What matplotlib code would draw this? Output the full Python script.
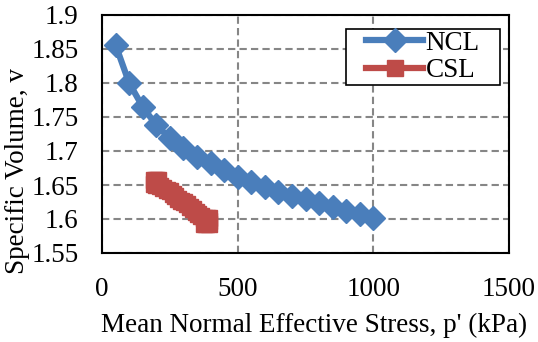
import numpy as np
import matplotlib
matplotlib.use("Agg")
import matplotlib.pyplot as plt
from matplotlib.patches import Rectangle

# NCL data
ncl_p = [50, 100, 150, 200, 250, 300, 350, 400, 450, 500,
         550, 600, 650, 700, 750, 800, 850, 900, 950, 1000]
ncl_v = [1.856, 1.800, 1.765, 1.738, 1.719, 1.704, 1.691, 1.682, 1.672, 1.662,
         1.654, 1.647, 1.640, 1.634, 1.629, 1.624, 1.618, 1.612, 1.607, 1.602]

# CSL data
csl_p = [190, 200, 208, 190, 200, 215, 225, 238, 250, 262, 270, 280, 290, 302,
         312, 323, 335, 345, 355, 366, 377, 388, 395, 395, 395, 385, 377]
csl_v = [1.658, 1.658, 1.658, 1.651, 1.650, 1.648, 1.646, 1.643, 1.641, 1.637,
         1.634, 1.630, 1.627, 1.625, 1.622, 1.618, 1.614, 1.611, 1.607, 1.604,
         1.601, 1.601, 1.601, 1.597, 1.593, 1.593, 1.593]

x_ticks = [0, 500, 1000, 1500]
y_ticks = [1.55, 1.6, 1.65, 1.7, 1.75, 1.8, 1.85, 1.9]
y_ticklabels = ['1.55', '1.6', '1.65', '1.7', '1.75', '1.8', '1.85', '1.9']

plt.rcParams['font.family'] = ['Liberation Serif', 'DejaVu Serif']
fs = 19.5

fig = plt.figure(figsize=(5.38, 3.42), dpi=100)
ax = fig.add_axes([102/538, 1 - 253/342, 407/538, 238/342])

blue = '#4A7EBB'
red = '#BE4B48'

ax.plot(ncl_p, ncl_v, color=blue, lw=4.5, marker='D', ms=12,
        mec=blue, mfc=blue, label='NCL', zorder=3)
ax.plot(csl_p, csl_v, color=red, lw=4.5, marker='s', ms=11,
        mec=red, mfc=red, label='CSL', zorder=3)

ax.set_xlim(0, 1500)
ax.set_ylim(1.55, 1.9)
ax.set_xticks(x_ticks)
ax.set_yticks(y_ticks)
ax.set_yticklabels(y_ticklabels)
ax.tick_params(length=0, labelsize=fs)
ax.tick_params(axis='x', pad=17)
ax.tick_params(axis='y', pad=17)

ax.grid(True, color='#868686', ls=(0, (3.5, 2)), lw=1.5)
ax.set_axisbelow(True)
for s in ax.spines.values():
    s.set_linewidth(1.5)
    s.set_color('black')

ax.set_xlabel("Mean Normal Effective Stress, p' (kPa)", fontsize=fs)
ax.xaxis.set_label_coords(0.521, -0.303, transform=ax.transAxes)
ax.xaxis.label.set_va('center')
ax.set_ylabel("Specific Volume, v", fontsize=fs)
ax.yaxis.set_label_coords(18/538, 0.5, transform=fig.transFigure)
ax.yaxis.label.set_va('center')

# legend box drawn by hand so the padding matches
bx0, bx1 = (346 - 102) / 407, (500 - 102) / 407
by1, by0 = 1 - (29 - 15) / 238, 1 - (85 - 15) / 238
ax.add_patch(Rectangle((bx0, by0), bx1 - bx0, by1 - by0, transform=ax.transAxes,
                       facecolor='white', edgecolor='black', lw=1.2, zorder=4))
leg = ax.legend(loc='center', bbox_to_anchor=((bx0 + bx1) / 2, (by0 + by1) / 2),
                fontsize=fs, frameon=False, handlelength=2.1, handletextpad=0.1,
                labelspacing=0.1, borderpad=0, borderaxespad=0)
leg.set_zorder(5)

fig.savefig('out.png', dpi=100)
